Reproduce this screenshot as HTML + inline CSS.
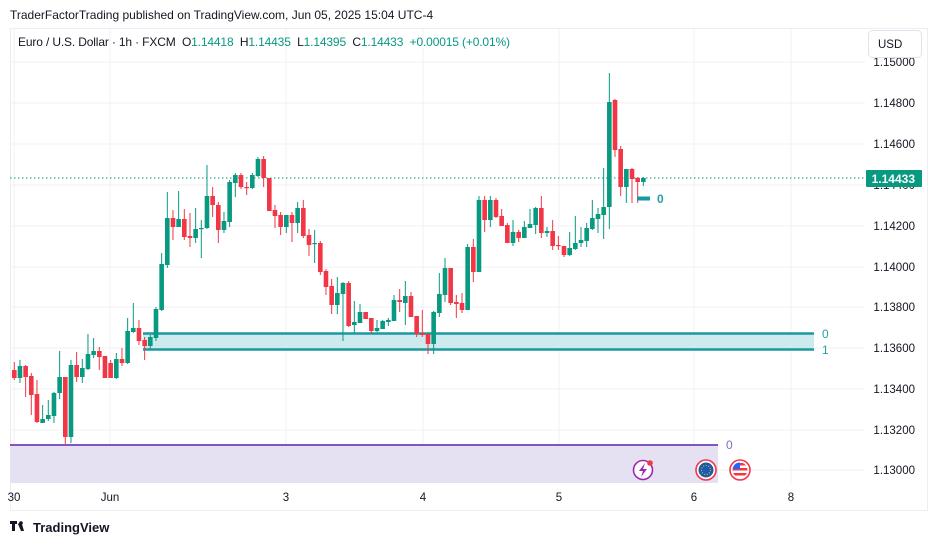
<!DOCTYPE html>
<html><head><meta charset="utf-8"><style>
body{margin:0;background:#fff;width:937px;height:546px;overflow:hidden;font-family:"Liberation Sans",sans-serif}
</style></head><body>
<svg id="s" width="937" height="546" xmlns="http://www.w3.org/2000/svg" font-family="Liberation Sans, sans-serif">
<rect width="937" height="546" fill="#fff"/>
<rect x="10.5" y="28.5" width="917" height="482" fill="none" stroke="#eceef2"/>
<g stroke="#f0f1f4" stroke-width="1">
<line x1="14" y1="29" x2="14" y2="483"/><line x1="110" y1="29" x2="110" y2="483"/><line x1="286" y1="29" x2="286" y2="483"/><line x1="423" y1="29" x2="423" y2="483"/><line x1="559" y1="29" x2="559" y2="483"/><line x1="694" y1="29" x2="694" y2="483"/><line x1="791" y1="29" x2="791" y2="483"/>
<line x1="11" y1="62" x2="865" y2="62"/><line x1="11" y1="103" x2="865" y2="103"/><line x1="11" y1="144" x2="865" y2="144"/><line x1="11" y1="185" x2="865" y2="185"/><line x1="11" y1="226" x2="865" y2="226"/><line x1="11" y1="267" x2="865" y2="267"/><line x1="11" y1="307" x2="865" y2="307"/><line x1="11" y1="348" x2="865" y2="348"/><line x1="11" y1="389" x2="865" y2="389"/><line x1="11" y1="430" x2="865" y2="430"/><line x1="11" y1="470" x2="865" y2="470"/>
</g>
<rect x="10" y="445" width="708" height="38" fill="#e6e0f3"/>
<line x1="10" y1="445" x2="718" y2="445" stroke="#7e57c2" stroke-width="2"/>
<text x="726" y="449" font-size="12" fill="#7e6fc0">0</text>
<rect x="143" y="333" width="671" height="17" fill="#cdeaee"/>
<line x1="143" y1="333.5" x2="814" y2="333.5" stroke="#1b98a0" stroke-width="2.5"/>
<line x1="143" y1="349.5" x2="814" y2="349.5" stroke="#1b98a0" stroke-width="2.5"/>
<text x="822" y="338" font-size="12" fill="#26a0a8">0</text>
<text x="822" y="354" font-size="12" fill="#26a0a8">1</text>
<line x1="10" y1="178" x2="865" y2="178" stroke="#089981" stroke-dasharray="1.5,2.5"/>
<g id="c"></g>
<line x1="637" y1="198.5" x2="650" y2="198.5" stroke="#1b98a0" stroke-width="4"/>
<text x="657" y="203" font-size="12" fill="#26a0a8" font-weight="bold">0</text>
<circle cx="643" cy="470" r="9.5" fill="#fff" stroke="#9c27b0" stroke-width="1.6"/>
<path d="M645 463 L639 471 L643 471 L641 477 L647 469 L643 469 Z" fill="#9c27b0"/>
<circle cx="650" cy="463" r="2.8" fill="#f23645"/>
<circle cx="706" cy="470" r="10" fill="#fff" stroke="#f23645" stroke-width="1.6"/>
<circle cx="706" cy="470" r="7.5" fill="#1e5aa8"/>
<circle cx="706" cy="470" r="4.5" fill="none" stroke="#e8c440" stroke-dasharray="1,1.6"/>
<circle cx="740" cy="470" r="10" fill="#fff" stroke="#f23645" stroke-width="1.6"/>
<clipPath id="us"><circle cx="740" cy="470" r="7.5"/></clipPath>
<g clip-path="url(#us)"><rect x="732" y="462" width="16" height="16" fill="#fff"/><rect x="732" y="463" width="16" height="2.5" fill="#f23645"/><rect x="732" y="468" width="16" height="2.5" fill="#f23645"/><rect x="732" y="473" width="16" height="2.5" fill="#f23645"/><rect x="732" y="462" width="8" height="7" fill="#2962ff"/></g>
<g font-size="11.5" fill="#131722" text-anchor="middle">
<text x="14" y="501">30</text><text x="110" y="501">Jun</text><text x="286" y="501">3</text><text x="423" y="501">4</text><text x="559" y="501">5</text><text x="694" y="501">6</text><text x="791" y="501">8</text>
</g>
<g font-size="11.5" fill="#131722" text-anchor="end">
<text x="915" y="66">1.15000</text><text x="915" y="107">1.14800</text><text x="915" y="148">1.14600</text><text x="915" y="189">1.14400</text><text x="915" y="230">1.14200</text><text x="915" y="271">1.14000</text><text x="915" y="311">1.13800</text><text x="915" y="352">1.13600</text><text x="915" y="393">1.13400</text><text x="915" y="434">1.13200</text><text x="915" y="474">1.13000</text>
</g>
<rect x="866" y="170" width="56" height="17" fill="#089981" rx="1"/>
<text x="915" y="183" font-size="12" font-weight="bold" fill="#fff" text-anchor="end">1.14433</text>
<rect x="868.5" y="30.5" width="53" height="27" rx="4" fill="#fff" stroke="#e0e3eb"/>
<text x="878" y="48" font-size="11.5" fill="#131722">USD</text>
<text x="10" y="19" font-size="12" fill="#131722">TraderFactorTrading published on TradingView.com, Jun 05, 2025 15:04 UTC-4</text>
<text x="18" y="46" font-size="12" fill="#131722" style="white-space:pre" textLength="492">Euro / U.S. Dollar · 1h · FXCM  O<tspan fill="#089981">1.14418</tspan>  H<tspan fill="#089981">1.14435</tspan>  L<tspan fill="#089981">1.14395</tspan>  C<tspan fill="#089981">1.14433</tspan>  <tspan fill="#089981">+0.00015 (+0.01%)</tspan></text>
<path d="M10 521 h7 v3 h-2 v7 h-3 v-7 h-2z M18 524 l3 7 h3 l-3 -10z" fill="#131722"/>
<circle cx="21" cy="523" r="1.8" fill="#131722"/>
<text x="33" y="532" font-size="13" font-weight="bold" fill="#131722">TradingView</text>
</svg>
<script>
var d=[[1,370,378,362,380],[0,366,378,360,383],[1,366,377,365,397],[1,376,395,373,415],[1,394,422,380,423],[0,419,423,405,423],[0,415,419,400,421],[0,393,416,392,423],[0,377,393,351,399],[1,377,437,377,445],[0,365,437,360,443],[1,365,377,352,382],[0,368,377,359,383],[0,354,369,334,370],[0,351,355,338,358],[1,351,357,347,370],[1,356,378,356,378],[1,363,378,360,378],[0,359,378,353,379],[1,359,363,348,366],[0,331,363,318,364],[0,328,332,303,333],[1,328,341,320,345],[1,340,346,337,360],[0,337,346,335,349],[0,309,338,307,341],[0,264,310,253,311],[0,218,265,192,268],[1,218,227,210,240],[0,219,227,191,227],[1,219,237,209,240],[1,236,238,213,247],[0,229,238,208,243],[0,228,229,220,258],[0,196,228,165,229],[1,196,205,187,217],[1,205,230,202,243],[0,221,230,212,233],[0,182,222,180,227],[0,175,183,173,197],[1,175,187,173,189],[1,187,188,182,195],[0,175,188,173,189],[0,159,176,157,177],[1,159,178,156,187],[1,178,211,178,211],[1,210,216,205,228],[1,215,227,212,235],[0,215,227,215,233],[1,215,223,212,242],[0,208,223,202,233],[1,208,236,200,238],[1,235,245,229,256],[0,243,244,230,263],[1,243,272,241,275],[1,271,287,269,295],[1,286,305,279,314],[0,293,305,277,314],[0,283,294,282,341],[1,283,326,281,327],[0,322,325,301,333],[0,312,323,304,323],[1,312,319,312,319],[1,318,331,318,333],[0,328,331,320,332],[0,321,329,320,329],[0,320,322,318,326],[0,300,321,295,321],[1,300,302,289,312],[0,296,303,281,325],[1,296,317,292,317],[1,316,334,316,337],[1,333,335,310,337],[1,334,344,334,354],[0,312,344,311,354],[0,294,313,273,317],[0,268,295,258,302],[1,268,303,268,305],[1,302,304,295,318],[1,303,310,293,313],[0,247,310,244,310],[1,247,272,239,282],[0,200,272,196,272],[1,200,220,196,232],[0,200,220,196,227],[1,200,217,198,218],[1,216,226,209,226],[1,225,243,223,243],[0,232,243,220,246],[1,232,238,230,242],[0,227,238,221,238],[0,224,228,209,228],[0,208,225,207,234],[1,208,233,196,238],[0,231,233,227,237],[1,231,246,220,250],[1,245,246,236,250],[1,246,255,246,257],[0,248,255,232,256],[0,243,249,216,250],[0,240,243,227,247],[0,228,241,223,247],[0,218,229,200,230],[0,214,219,208,233],[0,207,215,168,239],[0,102,207,73,229],[1,100,150,99,157],[1,149,187,146,196],[0,169,187,169,203],[1,169,179,168,203],[1,178,182,177,203],[0,178,182,177,186]];
var h='';d.forEach(function(c,i){var x=14.3+i*5.667,col=c[0]?'#f23645':'#089981';
h+='<line x1="'+x+'" y1="'+c[3]+'" x2="'+x+'" y2="'+c[4]+'" stroke="'+col+'" stroke-width="1"/>';
h+='<rect x="'+(x-2.3)+'" y="'+c[1]+'" width="4.6" height="'+Math.max(1.2,c[2]-c[1])+'" fill="'+col+'"/>';});
document.getElementById('c').innerHTML=h;
</script>
</body></html>
